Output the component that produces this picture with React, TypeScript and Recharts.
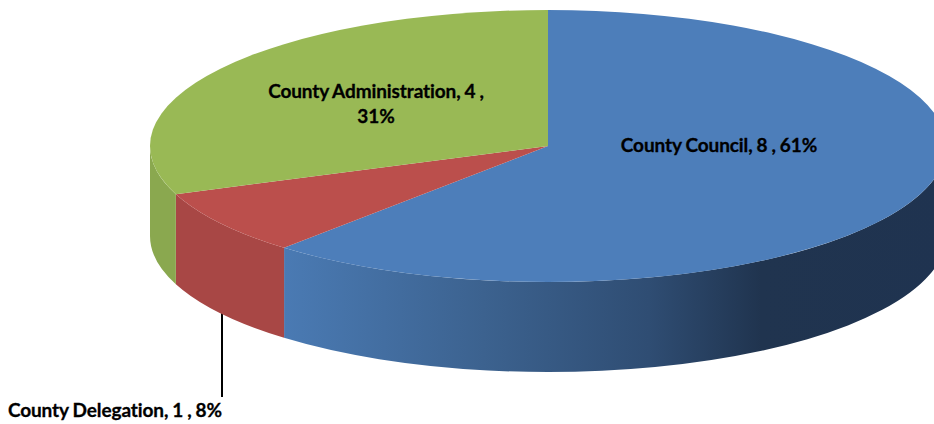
import React from "react";
import { PieChart, Pie } from "recharts";

const categories = ["County Council", "County Delegation", "County Administration"];
const counts = [8, 1, 4];
const percents = ["61%", "8%", "31%"];

const topColors = ["#4d7eba", "#bb4f4c", "#99b955"];
const wallColors = ["url(#blueWall)", "#a84745", "#8aa84f"];

const data = categories.map((name, i) => ({ name, value: counts[i] }));

const FLATTEN = 136 / 398; // tilt of the pie
const DEPTH = 90;
const RAD = Math.PI / 180;

const ex = (cx: number, r: number, a: number) => cx + r * Math.cos(a * RAD);
const ey = (cy: number, r: number, a: number) => cy - r * FLATTEN * Math.sin(a * RAD);

// top face of one slice, squashed into an ellipse
function topPath(cx: number, cy: number, r: number, start: number, end: number) {
  const large = Math.abs(end - start) > 180 ? 1 : 0;
  return `M${cx},${cy}L${ex(cx, r, start)},${ey(cy, r, start)}A${r},${r * FLATTEN} 0 ${large} 1 ${ex(cx, r, end)},${ey(cy, r, end)}Z`;
}

// outer wall, only the part facing the viewer (angles 0..-180)
function wallPath(cx: number, cy: number, r: number, start: number, end: number) {
  const a = Math.min(start, 0);
  const b = Math.max(end, -180);
  if (a <= b) return "";
  return (
    `M${ex(cx, r, a)},${ey(cy, r, a)}A${r},${r * FLATTEN} 0 0 1 ${ex(cx, r, b)},${ey(cy, r, b)}` +
    `L${ex(cx, r, b)},${ey(cy, r, b) + DEPTH}A${r},${r * FLATTEN} 0 0 0 ${ex(cx, r, a)},${ey(cy, r, a) + DEPTH}Z`
  );
}

function Slice(props: any) {
  const { cx, cy, outerRadius, startAngle, endAngle, index } = props;
  return (
    <g>
      <path d={wallPath(cx, cy, outerRadius, startAngle, endAngle)} fill={wallColors[index]} />
      <path d={topPath(cx, cy, outerRadius, startAngle, endAngle)} fill={topColors[index]} />
    </g>
  );
}

const labelStyle = {
  fontFamily: "Lato, sans-serif",
  fontWeight: 700,
  fontSize: 19,
  letterSpacing: -0.1,
  wordSpacing: -0.5,
  fill: "#000",
  stroke: "#000",
  strokeWidth: 0.3,
};

// label anchors, one per slice
const labelSpots = [
  { x: 719, y: 152, anchor: "middle" },
  { x: 222, y: 417, anchor: "end" },
  { x: 376, y: 98, anchor: "middle" },
];

function SliceLabel(props: any) {
  const i = props.index;
  const spot = labelSpots[i];
  const text = `${categories[i]}, ${counts[i]} ,`;
  if (i === 2) {
    return (
      <text x={spot.x} y={spot.y} textAnchor="middle" style={labelStyle}>
        <tspan x={spot.x}>{text}</tspan>
        <tspan x={spot.x} dy={25}>{percents[i]}</tspan>
      </text>
    );
  }
  return (
    <text x={spot.x} y={spot.y} textAnchor={spot.anchor} style={labelStyle}>
      {`${text} ${percents[i]}`}
    </text>
  );
}

export default function App() {
  return (
    <div style={{ position: "absolute", left: 0, top: 0, width: 934, height: 424 }}>
      <PieChart width={934} height={424} margin={{ top: 0, right: 0, bottom: 0, left: 0 }}>
        <defs>
          <linearGradient id="blueWall" gradientUnits="userSpaceOnUse" x1="285" y1="0" x2="946" y2="0">
            <stop offset="0" stopColor="#4a7ab3" />
            <stop offset="0.3" stopColor="#3c628f" />
            <stop offset="0.55" stopColor="#2f4d73" />
            <stop offset="0.72" stopColor="#20344f" />
            <stop offset="1" stopColor="#1f3350" />
          </linearGradient>
        </defs>
        <Pie
          data={data}
          dataKey="value"
          nameKey="name"
          cx={548}
          cy={146}
          innerRadius={0}
          outerRadius={398}
          startAngle={90}
          endAngle={-270}
          paddingAngle={0}
          stroke="none"
          shape={Slice}
          label={SliceLabel}
          labelLine={false}
          isAnimationActive={false}
        />
        <line x1={222} y1={311} x2={222} y2={397} stroke="#000" strokeWidth={2} />
      </PieChart>
    </div>
  );
}
